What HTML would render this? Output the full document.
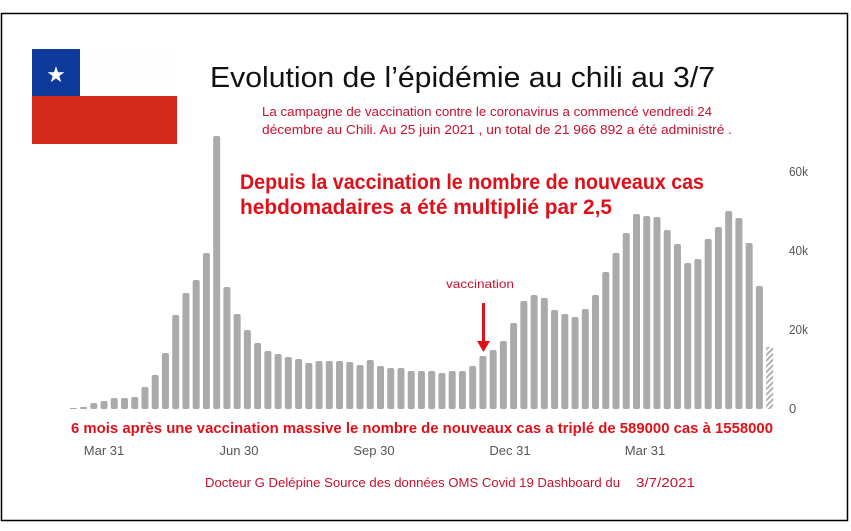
<!DOCTYPE html>
<html><head><meta charset="utf-8"><style>
html,body{margin:0;padding:0;background:#fff;}
svg{display:block;}
</style></head><body>
<svg width="851" height="531" viewBox="0 0 851 531" xmlns="http://www.w3.org/2000/svg">
<defs>
<pattern id="h" width="4" height="4" patternUnits="userSpaceOnUse" patternTransform="rotate(45)">
<rect width="4" height="4" fill="#fff"/><rect width="1.8" height="4" fill="#aaa"/>
</pattern>
</defs>
<rect x="0" y="0" width="851" height="531" fill="#fff"/>
<rect x="1.5" y="13.5" width="846" height="507" fill="none" stroke="#000" stroke-width="1.5"/>
<!-- flag -->
<rect x="32" y="49" width="145" height="47" fill="#fdfdfd"/>
<rect x="32" y="49" width="48" height="47" fill="#0e3a9c"/>
<rect x="32" y="96" width="145" height="48" fill="#d52b1e"/>
<text x="56" y="82" font-family="DejaVu Sans, sans-serif" font-size="22" fill="#fff" text-anchor="middle">★</text>
<!-- titles -->
<text x="210" y="87" font-family="Liberation Sans, sans-serif" font-size="29" fill="#111" textLength="505" lengthAdjust="spacingAndGlyphs">Evolution de l’épidémie au chili au 3/7</text>
<g font-family="Liberation Sans, sans-serif" font-size="12.5" fill="#c8102e">
<text x="262" y="116" textLength="450" lengthAdjust="spacingAndGlyphs">La campagne de vaccination contre le coronavirus a commencé vendredi 24</text>
<text x="262" y="134" textLength="470" lengthAdjust="spacingAndGlyphs">décembre au Chili. Au 25 juin 2021 , un total de 21 966 892 a été administré  .</text>
</g>
<g font-family="Liberation Sans, sans-serif" font-size="21" font-weight="bold" fill="#e0101a">
<text x="240" y="189" textLength="464" lengthAdjust="spacingAndGlyphs">Depuis la vaccination le nombre de nouveaux cas</text>
<text x="240" y="214" textLength="372" lengthAdjust="spacingAndGlyphs">hebdomadaires a été multiplié par 2,5</text>
</g>
<!-- bars -->
<g fill="#aaaaaa" id="bars"></g>
<!-- y labels -->
<g font-family="Liberation Sans Narrow, Liberation Sans, sans-serif" font-size="13" fill="#555">
<text x="789" y="176" textLength="19" lengthAdjust="spacingAndGlyphs">60k</text>
<text x="789" y="255" textLength="19" lengthAdjust="spacingAndGlyphs">40k</text>
<text x="789" y="334" textLength="19" lengthAdjust="spacingAndGlyphs">20k</text>
<text x="789" y="413">0</text>
</g>
<!-- vaccination annotation -->
<text x="446" y="288" font-family="Liberation Sans, sans-serif" font-size="12" fill="#c8102e" textLength="68" lengthAdjust="spacingAndGlyphs">vaccination</text>
<line x1="483.5" y1="303" x2="483.5" y2="342" stroke="#e0101a" stroke-width="3"/>
<polygon points="477,341 490,341 483.5,352" fill="#e0101a"/>
<!-- bottom -->
<text x="71" y="433" font-family="Liberation Sans, sans-serif" font-size="15" font-weight="bold" fill="#e0101a" textLength="702" lengthAdjust="spacingAndGlyphs">6 mois après une vaccination massive le nombre de nouveaux cas a triplé de 589000 cas à 1558000</text>
<g font-family="Liberation Sans Narrow, Liberation Sans, sans-serif" font-size="13" fill="#555" text-anchor="middle">
<text x="104" y="455">Mar 31</text>
<text x="239" y="455">Jun 30</text>
<text x="374" y="455">Sep 30</text>
<text x="510" y="455">Dec 31</text>
<text x="645" y="455">Mar 31</text>
</g>
<g font-family="Liberation Sans, sans-serif" font-size="12.5" fill="#c8102e">
<text x="205" y="487" textLength="415" lengthAdjust="spacingAndGlyphs">Docteur G Delépine Source des données OMS Covid 19 Dashboard du</text>
<text x="636" y="487" textLength="59" lengthAdjust="spacingAndGlyphs">3/7/2021</text>
</g>
<script>
var tops=[408,407,403,401,398,398,397,387,375,353,315,293,280,253,136,287,314,330,343,351,354,357,359,363,361,361,361,362,365,360,366,368,368,371,371,371,373,371,371,366,356,350,341,323,301,295,298,310,314,317,309,295,272,253,233,214,216,217,230,244,263,259,239,227,211,218,243,286,347];
var g=document.getElementById('bars'),ns='http://www.w3.org/2000/svg',base=409;
tops.forEach(function(t,i){
 var cx=73.3+i*10.24,w=7,h=base-t; if(h<1)h=1;
 var r=document.createElementNS(ns,'rect');
 r.setAttribute('x',(cx-w/2).toFixed(2));r.setAttribute('y',t);
 r.setAttribute('width',w);r.setAttribute('height',h);
 r.setAttribute('rx',Math.min(2,h/2));
 if(i==tops.length-1){r.setAttribute('fill','url(#h)');}
 g.appendChild(r);
});
</script>
</svg>
</body></html>
